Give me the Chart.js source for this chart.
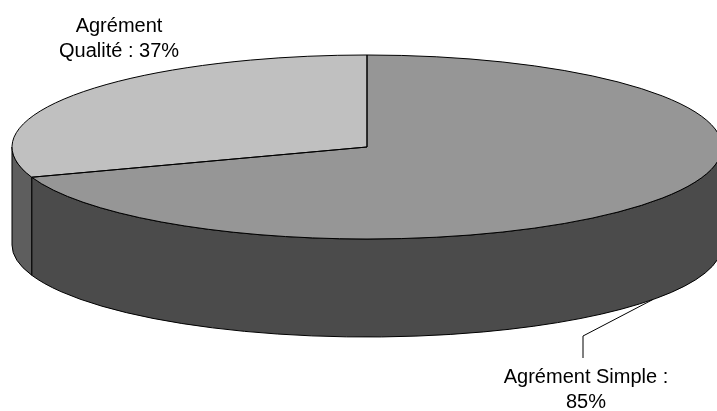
<!DOCTYPE html>
<html>
<head>
<meta charset="utf-8">
<script src="https://cdn.jsdelivr.net/npm/chart.js@4.4.0/dist/chart.umd.min.js"></script>
<style>
html,body{margin:0;padding:0;background:#fff;}
#wrap{width:717px;height:411px;}
</style>
</head>
<body>
<div id="wrap"><canvas id="agrement-chart"></canvas></div>
<script>
const _categories = ['Agrément Simple', 'Agrément Qualité'];
const _valeurs = [85, 37];
const _couleurs_dessus = ['#969696', '#c0c0c0'];
const _couleurs_cote = ['#4b4b4b', '#5e5e5e'];

// ellipse du dessus et épaisseur du camembert
const RX = 355, RY = 92, PROF = 98;

// position des étiquettes (centre x, ligne de base, largeur max)
const _etiquettes = [
	{cx: 586, y: 383, largeur: 180, trait: {angle: 0.635, coude: [583, 336], fin: [583, 358]}},
	{cx: 119, y: 32, largeur: 130}
];

const couper = (ctx, texte, largeur) => {
	const mots = texte.split(' ');
	const lignes = [];
	let ligne = '';
	mots.forEach(m => {
		const essai = ligne ? ligne + ' ' + m : m;
		if (ctx.measureText(essai).width > largeur && ligne) { lignes.push(ligne); ligne = m; }
		else ligne = essai;
	});
	lignes.push(ligne);
	return lignes;
};

const pie3d = {
	id: 'pie3d',
	beforeDatasetsDraw(chart) {
		const ctx = chart.ctx;
		const arcs = chart.getDatasetMeta(0).data;
		// côtés visibles : moitié avant de l'ellipse (0..PI)
		arcs.forEach((arc, i) => {
			const {x, y, startAngle, endAngle} = arc;
			const a0 = Math.max(startAngle, 0), a1 = Math.min(endAngle, Math.PI);
			if (a1 <= a0) return;
			ctx.beginPath();
			ctx.ellipse(x, y, RX, RY, 0, a0, a1);
			ctx.ellipse(x, y + PROF, RX, RY, 0, a1, a0, true);
			ctx.closePath();
			ctx.fillStyle = _couleurs_cote[i];
			ctx.fill();
			ctx.strokeStyle = '#000';
			ctx.lineWidth = 1;
			ctx.stroke();
		});
		// le dessus : on aplatit le disque dessiné par Chart.js
		const a = arcs[0];
		ctx.save();
		ctx.translate(a.x, a.y);
		ctx.scale(RX / a.outerRadius, RY / a.outerRadius);
		ctx.translate(-a.x, -a.y);
	},
	afterDatasetsDraw(chart) {
		const ctx = chart.ctx;
		ctx.restore();
		const arcs = chart.getDatasetMeta(0).data;
		ctx.strokeStyle = '#000';
		ctx.lineWidth = 1;
		arcs.forEach(arc => {
			ctx.beginPath();
			ctx.moveTo(arc.x, arc.y);
			ctx.ellipse(arc.x, arc.y, RX, RY, 0, arc.startAngle, arc.endAngle);
			ctx.closePath();
			ctx.stroke();
		});
		// étiquettes
		ctx.font = '20px "Liberation Sans", Arial, sans-serif';
		ctx.fillStyle = '#000';
		ctx.textAlign = 'center';
		ctx.textBaseline = 'alphabetic';
		arcs.forEach((arc, i) => {
			const et = _etiquettes[i];
			const texte = chart.data.labels[i] + ' : ' + chart.data.datasets[0].data[i] + '%';
			couper(ctx, texte, et.largeur).forEach((l, k) => ctx.fillText(l, et.cx, et.y + k * 25));
			if (et.trait) {
				const t = et.trait;
				ctx.beginPath();
				ctx.moveTo(arc.x + RX * Math.cos(t.angle), arc.y + PROF + RY * Math.sin(t.angle));
				ctx.lineTo(t.coude[0], t.coude[1]);
				ctx.lineTo(t.fin[0], t.fin[1]);
				ctx.stroke();
			}
		});
	}
};

let config = {
	type: 'pie',
	data: {labels: _categories, datasets: [{data: _valeurs, backgroundColor: _couleurs_dessus, borderWidth: 0, clip: false}]},
	options: {
		responsive: true,
		maintainAspectRatio: false,
		animation: false,
		events: [],
		layout: {padding: {left: 17, right: 0, top: 0, bottom: 117}},
		plugins: {legend: {display: false}, tooltip: {enabled: false}}
	},
	plugins: [pie3d]
};

const myChart = new Chart(document.getElementById('agrement-chart'), config);
</script>
</body>
</html>
